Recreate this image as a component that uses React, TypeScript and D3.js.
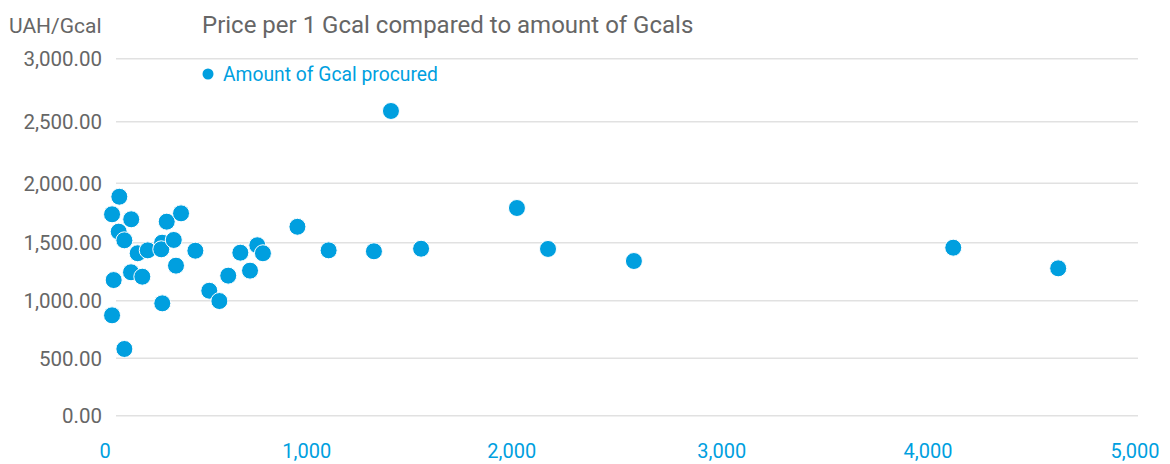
import React from "react";
import * as d3 from "d3";

// Amount of Gcal procured (x) and price per 1 Gcal in UAH (y)
const amountGcal = [
  35, 43, 35, 71, 68, 96, 96, 130, 129, 162, 185, 212, 283, 279, 284, 306, 341, 352, 377,
  448, 517, 567, 611, 671, 719, 755, 783, 954, 1107, 1328, 1558, 1411, 2025, 2173, 2582,
  4122, 4629,
];
const priceUah = [
  873, 1178, 1739, 1887, 1593, 1520, 581, 1697, 1245, 1409, 1207, 1434, 1500, 1443, 977,
  1677, 1523, 1302, 1747, 1431, 1086, 997, 1216, 1414, 1259, 1478, 1409, 1634, 1434, 1426,
  1448, 2585, 1792, 1446, 1342, 1457, 1279,
];

const xTicks = [0, 1000, 2000, 3000, 4000, 5000];
const yTicks = [0, 500, 1000, 1500, 2000, 2500, 3000];

const titleText = "Price per 1 Gcal compared to amount of Gcals";
const yUnitText = "UAH/Gcal";
const legendText = "Amount of Gcal procured";

const W = 1170;
const H = 464;
const BLUE = "#009FDF";
const GRAY = "#666666";
const FONT = "Roboto, 'Noto Sans', sans-serif";

export default function App() {
  const x = d3
    .scaleLinear()
    .domain(xTicks)
    .range([105, 306.7, 511.7, 721.7, 928, 1135]);
  const y = d3
    .scaleLinear()
    .domain(yTicks)
    .range([415.7, 358.3, 300.7, 242.7, 183.3, 121.7, 58.7]);

  const fmtY = d3.format(",.2f");
  const fmtX = d3.format(",");
  const gridLeft = 116;
  const gridRight = 1138;

  const points = amountGcal.map((a, i) => ({ a, p: priceUah[i] }));

  return (
    <svg
      width={W}
      height={H}
      style={{ position: "absolute", left: 0, top: 0, background: "#fff" }}
      fontFamily={FONT}
    >
      {yTicks.map((t) => (
        <g key={t}>
          <line
            x1={gridLeft}
            x2={gridRight}
            y1={y(t)}
            y2={y(t)}
            stroke="#e1e1e1"
            strokeWidth={1.5}
          />
          <text
            x={102}
            y={y(t) + 2}
            textAnchor="end"
            dominantBaseline="middle"
            fontSize={20.5}
            fill={GRAY}
          >
            {fmtY(t)}
          </text>
        </g>
      ))}
      {xTicks.map((t) => (
        <text
          key={t}
          x={x(t)}
          y={458}
          textAnchor="middle"
          fontSize={20}
          fill={BLUE}
        >
          {fmtX(t)}
        </text>
      ))}
      <text x={9} y={33} fontSize={21} fill={GRAY}>
        {yUnitText}
      </text>
      <text x={202} y={33} fontSize={24} fill={GRAY}>
        {titleText}
      </text>
      <circle cx={208} cy={74} r={5.5} fill={BLUE} />
      <text x={223} y={81} fontSize={19.3} fill={BLUE}>
        {legendText}
      </text>
      {points.map((d, i) => (
        <circle
          key={i}
          cx={x(d.a)}
          cy={y(d.p)}
          r={8.5}
          fill={BLUE}
          stroke="#ffffff"
          strokeWidth={1}
        />
      ))}
    </svg>
  );
}
